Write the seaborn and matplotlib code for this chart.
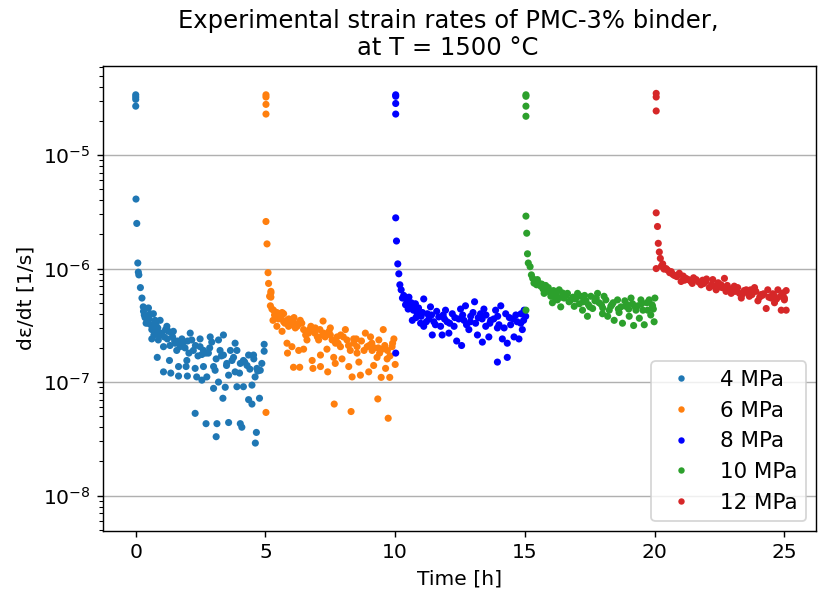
import matplotlib
matplotlib.use("Agg")
import matplotlib.pyplot as plt
import seaborn as sns
import pandas as pd
from matplotlib.lines import Line2D

# ---------------- data ----------------
labels = ["4 MPa", "6 MPa", "8 MPa", "10 MPa", "12 MPa"]
colors = ["#1f77b4", "#ff7f0e", "#0000ff", "#2ca02c", "#d62728"]

t_4 = [0.0, 0.0, 0.0, 0.0, 0.01, 0.04, 0.08, 0.1, 0.12, 0.18, 0.24,
       0.29, 0.49, 0.36, 0.55, 0.68, 0.75, 0.94, 0.62, 0.49, 0.81, 1.0, 1.2, 1.26, 1.39, 1.45,
       0.62, 0.87, 1.07, 1.32, 0.83, 1.3, 1.07, 1.35, 1.65, 1.65, 1.52, 1.58, 1.71, 1.78, 1.84,
       2.1, 2.16, 2.22, 1.97, 1.94, 1.99, 2.29, 2.35, 2.48, 2.48, 2.61, 2.61, 2.74, 2.55,
       2.87, 2.93, 2.80, 3.0, 3.06, 3.19, 3.25, 3.38, 3.38, 3.19, 3.0, 3.36, 3.51, 3.58, 3.45,
       3.71, 3.77, 3.83, 3.9, 3.83, 3.9, 4.03, 4.15, 4.29, 4.15, 4.35, 4.54, 4.48, 4.35, 4.48,
       4.6, 4.67, 4.8, 4.86, 4.77, 4.95, 4.95, 2.29, 2.71, 3.13, 3.1, 3.58, 4.03, 4.09, 4.65, 4.61,
       0.3, 0.4, 0.58, 0.7, 0.85, 1.1, 1.5, 1.9, 2.05, 2.4, 2.7, 3.1, 3.5, 4.0, 4.4, 4.7,
       0.33, 0.45, 0.52, 0.66, 0.78, 0.9, 1.15, 1.22, 1.42, 1.6, 1.75, 2.0, 2.3, 2.55, 2.85, 3.3, 3.65, 4.2, 4.55]
r_4 = [3.4e-5, 3.25e-5, 3.1e-5, 2.7e-5, 4.1e-6, 2.5e-6, 1.12e-6, 9.3e-7, 8.8e-7, 6.8e-7, 5.5e-7,
       4.6e-7, 4.5e-7, 3.7e-7, 4.0e-7, 4.0e-7, 3.5e-7, 3.5e-7, 2.9e-7, 3.3e-7, 2.8e-7, 2.7e-7, 3.1e-7, 2.8e-7, 2.7e-7, 2.8e-7,
       2.4e-7, 2.35e-7, 2.05e-7, 2.1e-7, 1.65e-7, 1.55e-7, 1.23e-7, 1.2e-7, 1.37e-7, 1.13e-7, 2.2e-7, 1.9e-7, 2.05e-7, 2.4e-7, 2.25e-7,
       2.7e-7, 2.35e-7, 1.9e-7, 1.55e-7, 1.37e-7, 1.13e-7, 1.32e-7, 1.11e-7, 2.4e-7, 2.05e-7, 1.9e-7, 1.37e-7, 1.11e-7, 1.04e-7,
       2.5e-7, 2.25e-7, 1.8e-7, 1.37e-7, 1.27e-7, 2.35e-7, 1.9e-7, 2.6e-7, 1.73e-7, 1.0e-7, 8.8e-8, 7.2e-8, 1.46e-7, 1.15e-7, 9.0e-8,
       1.55e-7, 1.65e-7, 2.2e-7, 1.9e-7, 1.23e-7, 9.1e-8, 1.46e-7, 1.55e-7, 1.4e-7, 9.1e-8, 1.73e-7, 1.73e-7, 9.4e-8, 7.0e-8, 6.4e-8,
       1.11e-7, 1.32e-7, 1.27e-7, 1.46e-7, 7.2e-8, 2.15e-7, 1.87e-7, 5.3e-8, 4.3e-8, 4.3e-8, 3.3e-8, 4.4e-8, 4.3e-8, 4.0e-8, 3.6e-8, 2.9e-8,
       4.2e-7, 3.3e-7, 3.2e-7, 2.6e-7, 3.0e-7, 2.5e-7, 2.3e-7, 2.0e-7, 1.8e-7, 1.7e-7, 1.8e-7, 1.6e-7, 1.4e-7, 1.2e-7, 1.3e-7, 1.25e-7,
       3.9e-7, 3.5e-7, 3.6e-7, 3.0e-7, 3.2e-7, 2.6e-7, 2.9e-7, 2.4e-7, 2.5e-7, 2.3e-7, 2.2e-7, 2.3e-7, 2.1e-7, 1.75e-7, 2.0e-7, 1.7e-7, 1.9e-7, 1.5e-7, 1.6e-7]

t_6 = [5.02, 5.02, 5.02, 5.02, 5.02, 5.06, 5.1, 5.12, 5.21, 5.16,
       5.21, 5.21, 5.19, 5.31, 5.44, 5.64, 5.7, 5.29, 5.44, 5.64, 5.83, 5.89, 6.08, 6.22, 6.34, 6.47,
       5.83, 5.85, 6.02, 6.28, 6.47, 6.08, 6.32, 6.6, 6.66, 6.8, 6.83, 6.92, 7.05, 7.12, 7.12,
       7.22, 7.24, 7.37, 7.4, 7.5, 7.57, 7.63, 7.69, 7.76, 7.89, 7.95, 8.08, 8.14, 8.21, 8.27, 8.34,
       8.4, 8.53, 8.6, 8.53, 8.66, 8.85, 8.92, 8.98, 9.05, 9.11, 9.17, 9.3, 9.37, 9.46, 9.54, 9.5,
       9.63, 9.69, 9.79, 9.88, 9.95, 10.0, 7.65, 8.3, 9.33, 9.73, 5.02,
       5.35, 5.5, 5.6, 5.75, 5.9, 6.0, 6.15, 6.4, 6.7, 6.9, 7.1, 7.3, 7.5, 7.8, 8.0, 8.4, 8.7,
       9.0, 9.2, 9.4, 9.6, 9.8,
       5.25, 5.4, 5.55, 5.7, 5.95, 6.1, 6.25, 6.55, 6.75, 7.0, 7.2, 7.45, 7.7, 7.9, 8.2, 8.5, 8.8, 9.1, 9.35, 9.7, 9.9]
r_6 = [3.4e-5, 3.25e-5, 2.8e-5, 2.3e-5, 2.6e-6, 1.65e-6, 9.2e-7, 7.4e-7, 6.3e-7, 5.7e-7,
       6.1e-7, 5.6e-7, 4.7e-7, 4.3e-7, 4.1e-7, 4.1e-7, 4.0e-7, 3.5e-7, 3.1e-7, 2.8e-7, 3.5e-7, 3.1e-7, 3.4e-7, 3.1e-7, 3.5e-7, 2.9e-7,
       2.2e-7, 1.8e-7, 2.05e-7, 1.9e-7, 1.95e-7, 1.35e-7, 1.35e-7, 2.35e-7, 2.7e-7, 1.55e-7, 1.32e-7, 3.0e-7, 2.35e-7, 1.73e-7, 1.37e-7,
       3.45e-7, 2.7e-7, 1.95e-7, 1.23e-7, 3.0e-7, 2.35e-7, 1.65e-7, 1.46e-7, 2.5e-7, 2.05e-7, 1.6e-7, 2.9e-7, 2.35e-7, 1.37e-7, 1.9e-7, 1.11e-7,
       2.4e-7, 2.05e-7, 1.5e-7, 1.8e-7, 1.15e-7, 2.7e-7, 2.05e-7, 1.23e-7, 2.5e-7, 1.9e-7, 1.4e-7, 1.65e-7, 2.35e-7, 1.1e-7, 2.9e-7, 1.95e-7,
       1.32e-7, 1.6e-7, 1.1e-7, 2.05e-7, 2.4e-7, 1.43e-7, 6.4e-8, 5.5e-8, 7.1e-8, 4.8e-8, 5.4e-8,
       3.9e-7, 3.6e-7, 3.7e-7, 3.3e-7, 3.6e-7, 3.2e-7, 3.0e-7, 3.3e-7, 2.9e-7, 2.7e-7, 2.9e-7, 2.5e-7, 2.6e-7, 2.2e-7, 2.5e-7, 2.2e-7, 2.3e-7,
       2.1e-7, 2.0e-7, 1.8e-7, 2.1e-7, 1.7e-7,
       4.4e-7, 3.8e-7, 4.0e-7, 3.4e-7, 3.3e-7, 3.7e-7, 3.2e-7, 2.6e-7, 3.1e-7, 2.5e-7, 2.6e-7, 2.8e-7, 2.2e-7, 2.6e-7, 2.1e-7, 2.4e-7, 1.9e-7, 2.2e-7, 2.0e-7, 1.9e-7, 2.2e-7]

t_8 = [10.02, 10.02, 10.02, 10.02, 10.02, 10.05, 10.1, 10.14, 10.18, 10.23, 10.33, 10.4, 10.53, 10.59,
       10.66, 10.78, 10.85, 10.98, 11.1, 11.1, 11.24, 11.36, 11.43, 11.49, 11.68, 11.75, 11.81, 11.94,
       12.0, 12.07, 12.2, 12.27, 12.37, 12.52, 12.56, 12.65, 12.71, 12.84, 12.91, 13.06, 13.1, 13.17,
       13.29, 13.36, 13.42, 13.49, 13.61, 13.68, 13.87, 13.94, 13.94, 14.07, 14.13, 14.26, 14.32, 14.32,
       14.45, 14.58, 14.65, 14.77, 14.84, 14.9, 14.97, 15.03, 10.02,
       10.45, 10.7, 10.9, 11.0, 11.3, 11.6, 11.9, 12.3, 12.6, 12.9, 13.2, 13.5, 13.8, 14.0, 14.4, 14.7, 14.95,
       10.28, 10.5, 10.62, 10.8, 11.05, 11.2, 11.4, 11.55, 11.85, 12.1, 12.45, 12.75, 13.0, 13.35, 13.65, 13.95, 14.2, 14.55, 14.85]
r_8 = [3.4e-5, 3.3e-5, 2.85e-5, 2.3e-5, 2.8e-6, 1.75e-6, 1.1e-6, 9.0e-7, 7.2e-7, 6.5e-7, 5.8e-7, 4.8e-7, 5.6e-7, 4.7e-7,
       3.5e-7, 4.9e-7, 4.0e-7, 3.3e-7, 5.4e-7, 3.1e-7, 4.0e-7, 4.6e-7, 2.6e-7, 3.4e-7, 3.75e-7, 3.1e-7, 2.6e-7, 4.3e-7,
       3.4e-7, 2.7e-7, 4.0e-7, 3.1e-7, 2.3e-7, 4.4e-7, 2.1e-7, 3.5e-7, 4.7e-7, 2.9e-7, 3.8e-7, 5.1e-7, 3.3e-7, 2.6e-7,
       4.0e-7, 2.25e-7, 4.4e-7, 3.1e-7, 2.5e-7, 3.5e-7, 4.3e-7, 3.0e-7, 1.5e-7, 4.7e-7, 2.4e-7, 4.0e-7, 1.65e-7, 2.2e-7,
       3.2e-7, 2.5e-7, 3.9e-7, 2.4e-7, 3.3e-7, 2.9e-7, 4.3e-7, 3.8e-7, 1.8e-7,
       5.2e-7, 4.3e-7, 4.5e-7, 3.8e-7, 3.6e-7, 4.2e-7, 3.6e-7, 3.7e-7, 3.9e-7, 3.4e-7, 3.7e-7, 3.9e-7, 3.6e-7, 3.2e-7, 3.7e-7, 3.4e-7, 3.5e-7,
       5.5e-7, 4.4e-7, 5.0e-7, 3.7e-7, 4.1e-7, 3.4e-7, 3.9e-7, 3.2e-7, 3.9e-7, 3.3e-7, 3.6e-7, 3.2e-7, 4.1e-7, 3.6e-7, 3.3e-7, 3.8e-7, 3.0e-7, 3.6e-7, 4.0e-7]

t_10 = [15.04, 15.04, 15.04, 15.04, 15.04, 15.07, 15.1, 15.13, 15.2, 15.25, 15.35, 15.48, 15.61, 15.74, 15.87, 16.0,
        16.06, 16.19, 16.32, 16.38, 16.51, 16.64, 16.77, 16.9, 17.03, 17.15, 17.22, 17.35, 17.41, 17.54,
        17.61, 17.8, 17.86, 17.99, 18.12, 18.19, 18.31, 18.44, 18.57, 18.63, 18.76, 18.89, 19.02, 19.09,
        19.19, 19.28, 19.41, 19.47, 19.6, 19.73, 19.79, 19.92, 19.98, 20.01, 15.04,
        15.4, 15.55, 15.7, 15.8, 15.95, 16.1, 16.25, 16.45, 16.7, 16.85, 17.1, 17.3, 17.45, 17.7, 17.95,
        18.05, 18.25, 18.4, 18.7, 18.85, 19.0, 19.15, 19.35, 19.55, 19.7, 19.85, 19.95,
        15.3, 15.45, 15.65, 15.9, 16.15, 16.4, 16.6, 16.95, 17.25, 17.5, 17.75, 18.0, 18.35, 18.6, 18.95, 19.25, 19.5, 19.9]
r_10 = [3.4e-5, 3.3e-5, 2.7e-5, 2.2e-5, 2.9e-6, 2.05e-6, 1.35e-6, 1.12e-6, 1.04e-6, 8.8e-7, 7.45e-7, 8.0e-7, 7.0e-7, 6.05e-7, 6.5e-7, 5.7e-7,
        5.0e-7, 5.9e-7, 6.5e-7, 4.6e-7, 5.5e-7, 6.05e-7, 5.3e-7, 4.65e-7, 6.05e-7, 5.7e-7, 4.3e-7, 5.2e-7, 3.8e-7, 5.7e-7,
        4.45e-7, 6.05e-7, 5.0e-7, 4.0e-7, 5.3e-7, 3.8e-7, 4.65e-7, 3.5e-7, 5.3e-7, 4.1e-7, 3.3e-7, 4.65e-7, 3.8e-7, 5.5e-7,
        3.15e-7, 4.3e-7, 3.65e-7, 5.3e-7, 3.2e-7, 4.3e-7, 5.3e-7, 4.65e-7, 3.4e-7, 5.5e-7, 4.3e-7,
        7.8e-7, 7.4e-7, 6.6e-7, 7.1e-7, 6.2e-7, 6.4e-7, 5.3e-7, 6.1e-7, 5.1e-7, 5.6e-7, 4.9e-7, 5.8e-7, 4.8e-7, 5.2e-7, 4.8e-7,
        5.7e-7, 4.3e-7, 5.0e-7, 4.6e-7, 5.2e-7, 4.4e-7, 4.9e-7, 4.7e-7, 4.3e-7, 5.0e-7, 3.9e-7, 4.4e-7,
        8.2e-7, 7.2e-7, 7.3e-7, 6.8e-7, 5.6e-7, 5.6e-7, 5.8e-7, 5.4e-7, 5.1e-7, 4.6e-7, 5.5e-7, 4.5e-7, 4.8e-7, 4.4e-7, 4.8e-7, 4.6e-7, 4.9e-7, 4.8e-7]

t_12 = [20.06, 20.06, 20.06, 20.06, 20.11, 20.14, 20.18, 20.22, 20.06, 20.31, 20.44, 20.64, 20.76, 20.95,
        21.02, 21.21, 21.4, 21.6, 21.79, 21.98, 22.11, 22.24, 22.37, 22.56, 22.69, 22.75, 22.95, 23.07,
        23.27, 23.34, 23.53, 23.65, 23.85, 23.98, 24.1, 24.3, 24.36, 24.49, 24.62, 24.75, 24.88, 24.94,
        25.07, 25.07, 25.0,
        20.5, 20.7, 20.85, 21.1, 21.3, 21.5, 21.7, 21.9, 22.0, 22.2, 22.45, 22.6, 22.8, 22.9, 23.1, 23.2,
        23.4, 23.6, 23.75, 23.9, 24.05, 24.2, 24.4, 24.55, 24.7, 24.85, 25.0,
        20.26, 20.36, 20.58, 21.15, 21.45, 21.85, 22.3, 22.5, 23.0, 23.45, 23.7, 24.15, 24.6, 24.95]
r_12 = [3.5e-5, 3.25e-5, 2.45e-5, 3.1e-6, 2.35e-6, 1.67e-6, 1.4e-6, 1.23e-6, 1.0e-6, 1.1e-6, 1.0e-6, 9.4e-7, 8.7e-7, 9.1e-7,
        7.7e-7, 8.2e-7, 7.7e-7, 8.0e-7, 7.2e-7, 7.7e-7, 6.8e-7, 8.0e-7, 6.5e-7, 7.2e-7, 8.2e-7, 6.3e-7, 6.05e-7, 7.0e-7,
        6.05e-7, 5.5e-7, 6.5e-7, 5.7e-7, 6.8e-7, 5.2e-7, 5.9e-7, 4.45e-7, 6.5e-7, 5.5e-7, 5.0e-7, 6.5e-7, 4.3e-7, 5.9e-7,
        6.4e-7, 4.3e-7, 5.3e-7,
        9.7e-7, 8.9e-7, 8.5e-7, 8.6e-7, 8.0e-7, 8.3e-7, 7.6e-7, 7.4e-7, 8.1e-7, 7.2e-7, 7.5e-7, 6.8e-7, 7.1e-7, 6.6e-7, 6.3e-7, 6.8e-7,
        6.0e-7, 6.2e-7, 5.9e-7, 6.3e-7, 5.6e-7, 6.0e-7, 5.6e-7, 6.0e-7, 5.4e-7, 5.7e-7, 5.5e-7,
        1.05e-6, 9.9e-7, 9.2e-7, 7.9e-7, 7.4e-7, 7.9e-7, 7.0e-7, 6.9e-7, 6.6e-7, 6.4e-7, 6.5e-7, 5.8e-7, 5.8e-7, 6.1e-7]

times = [t_4, t_6, t_8, t_10, t_12]
rates = [r_4, r_6, r_8, r_10, r_12]

# ---------------- figure ----------------
DPI = 128
BASE = 11.4
fig = plt.figure(figsize=(818 / DPI, 594 / DPI), dpi=DPI)
ax_l, ax_r, ax_t, ax_b = 103.3, 815.5, 66.0, 530.7
ax = fig.add_axes([ax_l / 818, 1 - ax_b / 594, (ax_r - ax_l) / 818, (ax_b - ax_t) / 594])

frames = []
for lab, t, r in zip(labels, times, rates):
    frames.append(pd.DataFrame({"Time": t, "Rate": r, "Load": lab}))
df = pd.concat(frames, ignore_index=True)

sns.scatterplot(data=df, x="Time", y="Rate", hue="Load", hue_order=labels,
                palette=dict(zip(labels, colors)), s=16, linewidth=0,
                ax=ax, legend=False, zorder=3)

ax.set_yscale("log")
ax.set_xlim(-1.25, 26.2)
ax.set_ylim(4.9e-9, 6.1e-5)
ax.grid(axis="y", which="major", color="#b0b0b0", linewidth=0.8, zorder=0)
ax.set_axisbelow(True)

ax.set_xlabel("Time [h]", fontsize=BASE)
ax.set_ylabel("dε/dt [1/s]", fontsize=BASE)
ax.set_title("Experimental strain rates of PMC-3% binder,\nat T = 1500 °C",
             fontsize=BASE * 1.2, x=(448 - ax_l) / (ax_r - ax_l))
ax.tick_params(labelsize=BASE)

handles = [Line2D([], [], linestyle="none", marker="o", markersize=3.6,
                  markerfacecolor=c, markeredgewidth=0, label=l)
           for c, l in zip(colors, labels)]
ax.legend(handles=handles, loc="lower right", fontsize=12, framealpha=0.8,
          borderaxespad=0.45)

fig.savefig("out.png", dpi=DPI)
